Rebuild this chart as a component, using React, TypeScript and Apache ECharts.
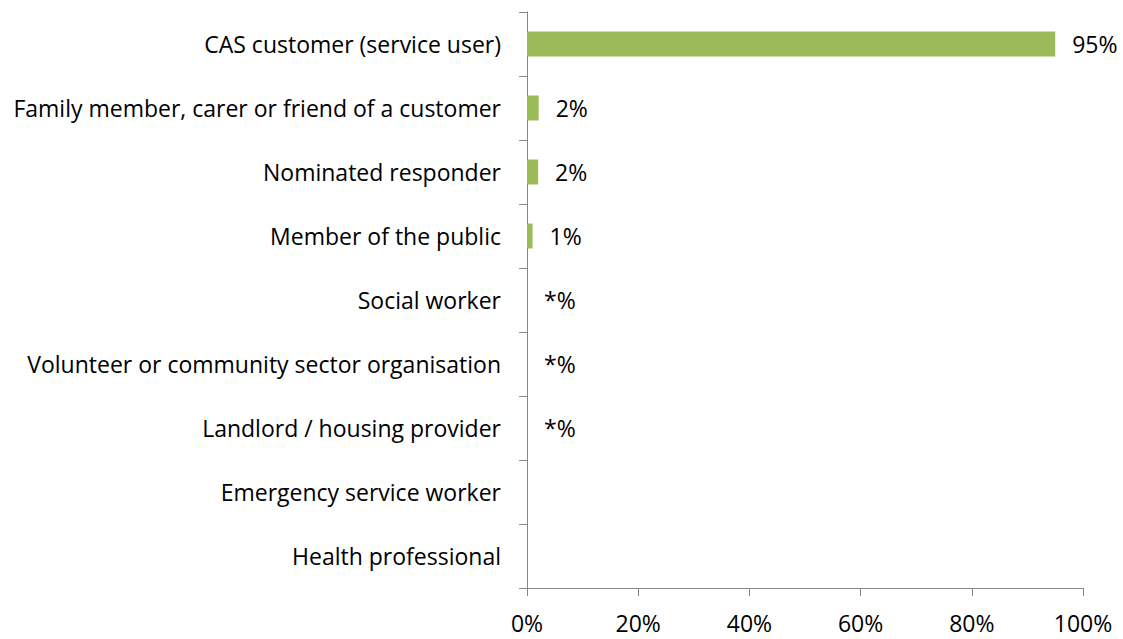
import React, { useEffect, useRef } from "react";
import * as echarts from "echarts";

const categories = [
  "CAS customer (service user)",
  "Family member, carer or friend of a customer",
  "Nominated responder",
  "Member of the public",
  "Social worker",
  "Volunteer or community sector organisation",
  "Landlord / housing provider",
  "Emergency service worker",
  "Health professional",
];
const values = [95, 2.1, 2, 1, 0, 0, 0, 0, 0];
const valueLabels = ["95%", "2%", "2%", "1%", "*%", "*%", "*%", "", ""];
const xTicks = [0, 20, 40, 60, 80, 100];

const FONT = "Open Sans";
const FS = 23;

export default function App() {
  const ref = useRef<HTMLDivElement>(null);
  useEffect(() => {
    if (!ref.current) return;
    const chart = echarts.init(ref.current, null, { renderer: "svg" });
    chart.setOption({
      animation: false,
      backgroundColor: "#ffffff",
      grid: { left: 527, right: 40, top: 12, bottom: 51, containLabel: false },
      xAxis: {
        type: "value",
        min: xTicks[0],
        max: xTicks[xTicks.length - 1],
        interval: 20,
        splitLine: { show: false },
        axisLine: { show: true, lineStyle: { color: "#868686", width: 1 } },
        axisTick: { show: true, length: 8, lineStyle: { color: "#868686" } },
        axisLabel: {
          formatter: "{value}%",
          fontFamily: FONT,
          fontSize: FS,
          color: "#000000",
          margin: 23,
        },
      },
      yAxis: {
        type: "category",
        data: categories,
        inverse: true,
        axisLine: { show: true, lineStyle: { color: "#868686", width: 1 } },
        axisTick: { show: true, length: 8, lineStyle: { color: "#868686" } },
        axisLabel: {
          fontFamily: FONT,
          fontSize: FS,
          color: "#000000",
          margin: 26,
        },
      },
      series: [
        {
          type: "bar",
          data: values,
          barWidth: 25,
          itemStyle: { color: "#9BBB59" },
          label: {
            show: true,
            position: "right",
            distance: 17,
            fontFamily: FONT,
            fontSize: FS,
            color: "#000000",
            formatter: (p: any) => valueLabels[p.dataIndex],
          },
        },
      ],
    });
    return () => chart.dispose();
  }, []);
  return (
    <div
      ref={ref}
      style={{ position: "fixed", left: 0, top: 0, width: 1123, height: 639 }}
    />
  );
}
